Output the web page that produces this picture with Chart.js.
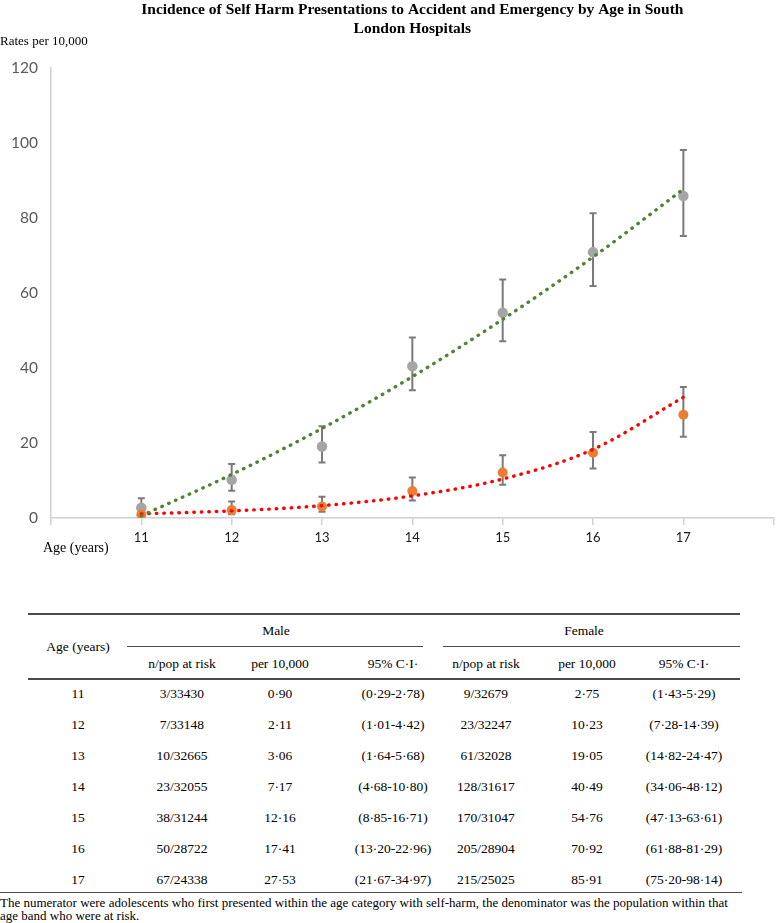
<!DOCTYPE html>
<html>
<head>
<meta charset="utf-8">
<script src="https://cdn.jsdelivr.net/npm/chart.js@4/dist/chart.umd.min.js"></script>
<style>
  html, body { margin: 0; padding: 0; background: #fff; }
  body { width: 779px; height: 923px; position: relative; overflow: hidden; font-family: "Liberation Serif", "Times New Roman", serif; color: #000; }
  #wrap { position: absolute; left: 0; top: 0; width: 779px; height: 560px; }
  .t { position: absolute; font-size: 13.5px; line-height: 16px; white-space: nowrap; transform: translate(-50%, -50%); }
  .rule { position: absolute; background: #4a4a4a; }
  .foot { position: absolute; left: 0; font-size: 13px; line-height: 15px; white-space: nowrap; }
</style>
</head>
<body>
<div id="wrap"><canvas id="c" width="779" height="560"></canvas></div>
<div id="table"></div>
<script>
// ---------- data ----------
const ages = [11, 12, 13, 14, 15, 16, 17];
const xTickLabels = ['11', '12', '13', '14', '15', '16', '17'];

const femaleRate = [2.75, 10.23, 19.05, 40.49, 54.76, 70.92, 85.91];
const femaleLow  = [1.43, 7.28, 14.82, 34.06, 47.13, 61.88, 75.20];
const femaleHigh = [5.29, 14.39, 24.47, 48.12, 63.61, 81.29, 98.14];

const maleRate = [0.90, 2.11, 3.06, 7.17, 12.16, 17.41, 27.53];
const maleLow  = [0.29, 1.01, 1.64, 4.68, 8.85, 13.20, 21.67];
const maleHigh = [2.78, 4.42, 5.68, 10.80, 16.71, 22.96, 34.97];

// trend lines
const femaleTrend = [0.6, 11.6, 23.9, 37.7, 53.0, 69.6, 87.7];
const maleTrend   = [1.1, 1.9, 3.3, 5.9, 10.4, 18.3, 32.2];

const maleCases = [3, 7, 10, 23, 38, 50, 67];
const malePop   = [33430, 33148, 32665, 32055, 31244, 28722, 24338];
const femaleCases = [9, 23, 61, 128, 170, 205, 215];
const femalePop   = [32679, 32247, 32028, 31617, 31047, 28904, 25025];

// ---------- chart ----------
const pts = (ys) => ages.map((a, i) => ({ x: a, y: ys[i] }));

const errorBars = {
  id: 'errorBars',
  beforeDatasetsDraw(chart) {
    const ctx = chart.ctx;
    const ys = chart.scales.y, xs = chart.scales.x;
    const sets = [[femaleLow, femaleHigh], [maleLow, maleHigh]];
    ctx.save();
    ctx.strokeStyle = '#7a7a7a';
    ctx.lineWidth = 2;
    sets.forEach(([lo, hi]) => {
      ages.forEach((a, i) => {
        const x = xs.getPixelForValue(a);
        const y1 = ys.getPixelForValue(lo[i]);
        const y2 = ys.getPixelForValue(hi[i]);
        ctx.beginPath();
        ctx.moveTo(x, y1); ctx.lineTo(x, y2);
        ctx.moveTo(x - 3.5, y1); ctx.lineTo(x + 3.5, y1);
        ctx.moveTo(x - 3.5, y2); ctx.lineTo(x + 3.5, y2);
        ctx.stroke();
      });
    });
    ctx.restore();
  }
};

const extraText = {
  id: 'extraText',
  afterDraw(chart) {
    const ctx = chart.ctx;
    ctx.save();
    ctx.fillStyle = '#000';
    ctx.textBaseline = 'middle';
    ctx.textAlign = 'left';
    ctx.font = '13px "Liberation Serif"';
    ctx.fillText('Rates per 10,000', 0, 42);
    ctx.font = '14px "Liberation Serif"';
    ctx.fillText('Age (years)', 43, 548);
    ctx.restore();
  }
};

new Chart(document.getElementById('c'), {
  type: 'scatter',
  data: {
    datasets: [
      { label: 'Female trend', data: pts(femaleTrend), showLine: true, pointRadius: 0,
        borderColor: '#548235', borderWidth: 3.4, borderDash: [0.5, 7], borderCapStyle: 'round',
        cubicInterpolationMode: 'monotone', order: 0 },
      { label: 'Male trend', data: pts(maleTrend), showLine: true, pointRadius: 0,
        borderColor: '#ff0000', borderWidth: 3.4, borderDash: [0.5, 7], borderCapStyle: 'round',
        cubicInterpolationMode: 'monotone', order: 0 },
      { label: 'Male', data: pts(maleRate), pointRadius: 5, pointBackgroundColor: '#ed7d31',
        pointBorderWidth: 0, borderColor: '#ed7d31', order: 1 },
      { label: 'Female', data: pts(femaleRate), pointRadius: 5.3, pointBackgroundColor: '#a5a5a5',
        pointBorderWidth: 0, borderColor: '#a5a5a5', order: 2 }
    ]
  },
  options: {
    responsive: false,
    animation: false,
    layout: { padding: { left: 0, right: 1, top: 0, bottom: 0 } },
    plugins: {
      legend: { display: false },
      tooltip: { enabled: false },
      title: {
        display: true,
        fullSize: false,
        text: ['Incidence of Self Harm Presentations to Accident and Emergency by Age in South', 'London Hospitals'],
        color: '#000',
        font: { family: '"Liberation Serif"', size: 15.5, weight: 'bold', lineHeight: 1.23 },
        padding: { top: 0, bottom: 30 }
      }
    },
    scales: {
      x: {
        type: 'linear', min: 10, max: 18,
        afterFit(s) { s.height = 42; },
        ticks: {
          stepSize: 1, autoSkip: false, maxRotation: 0, padding: 5,
          color: '#1a1a1a', font: { family: 'Lato', size: 13 },
          callback: (v) => { const i = ages.indexOf(v); return i >= 0 ? xTickLabels[i] : ''; }
        },
        grid: { drawOnChartArea: false, drawTicks: true, tickLength: 7, color: '#d0d0d0', lineWidth: 1.5 },
        border: { color: '#d0d0d0', width: 1.5 }
      },
      y: {
        min: 0, max: 120,
        afterFit(s) { s.width = 51; },
        ticks: { stepSize: 20, padding: 13, color: '#595959', font: { family: 'Lato', size: 15.5 } },
        grid: { display: false, drawTicks: false },
        border: { color: '#d0d0d0', width: 1.5 }
      }
    }
  },
  plugins: [errorBars, extraText]
});

// ---------- table ----------
const fmt = (v) => v.toFixed(2).replace('.', '\u00b7');
const colX = [78, 182, 280, 393, 486, 587, 684];
const rowY0 = 694, rowStep = 31;
const tbl = document.getElementById('table');
function txt(s, x, y) {
  const d = document.createElement('div');
  d.className = 't'; d.textContent = s;
  d.style.left = x + 'px'; d.style.top = y + 'px';
  tbl.appendChild(d);
}
function rule(x1, x2, y, h) {
  const d = document.createElement('div');
  d.className = 'rule';
  d.style.left = x1 + 'px'; d.style.width = (x2 - x1) + 'px';
  d.style.top = y + 'px'; d.style.height = h + 'px';
  tbl.appendChild(d);
}
rule(28, 740, 613, 1.5);
rule(127, 423, 645.5, 1);
rule(443, 740, 645.5, 1);
rule(28, 740, 678, 1.5);
rule(0, 742, 892, 1.2);
txt('Male', 276, 631);
txt('Female', 584, 631);
txt('Age (years)', colX[0], 647);
['n/pop at risk', 'per 10,000', '95% C\u00b7I\u00b7', 'n/pop at risk', 'per 10,000', '95% C\u00b7I\u00b7']
  .forEach((h, i) => txt(h, colX[i + 1], 664));
ages.forEach((a, i) => {
  const y = rowY0 + i * rowStep;
  txt(String(a), colX[0], y);
  txt(maleCases[i] + '/' + malePop[i], colX[1], y);
  txt(fmt(maleRate[i]), colX[2], y);
  txt('(' + fmt(maleLow[i]) + '-' + fmt(maleHigh[i]) + ')', colX[3], y);
  txt(femaleCases[i] + '/' + femalePop[i], colX[4], y);
  txt(fmt(femaleRate[i]), colX[5], y);
  txt('(' + fmt(femaleLow[i]) + '-' + fmt(femaleHigh[i]) + ')', colX[6], y);
});
const f1 = document.createElement('div');
f1.className = 'foot'; f1.style.top = '895px';
f1.textContent = 'The numerator were adolescents who first presented within the age category with self-harm, the denominator was the population within that';
tbl.appendChild(f1);
const f2 = document.createElement('div');
f2.className = 'foot'; f2.style.top = '908px';
f2.textContent = 'age band who were at risk.';
tbl.appendChild(f2);
</script>
</body>
</html>
